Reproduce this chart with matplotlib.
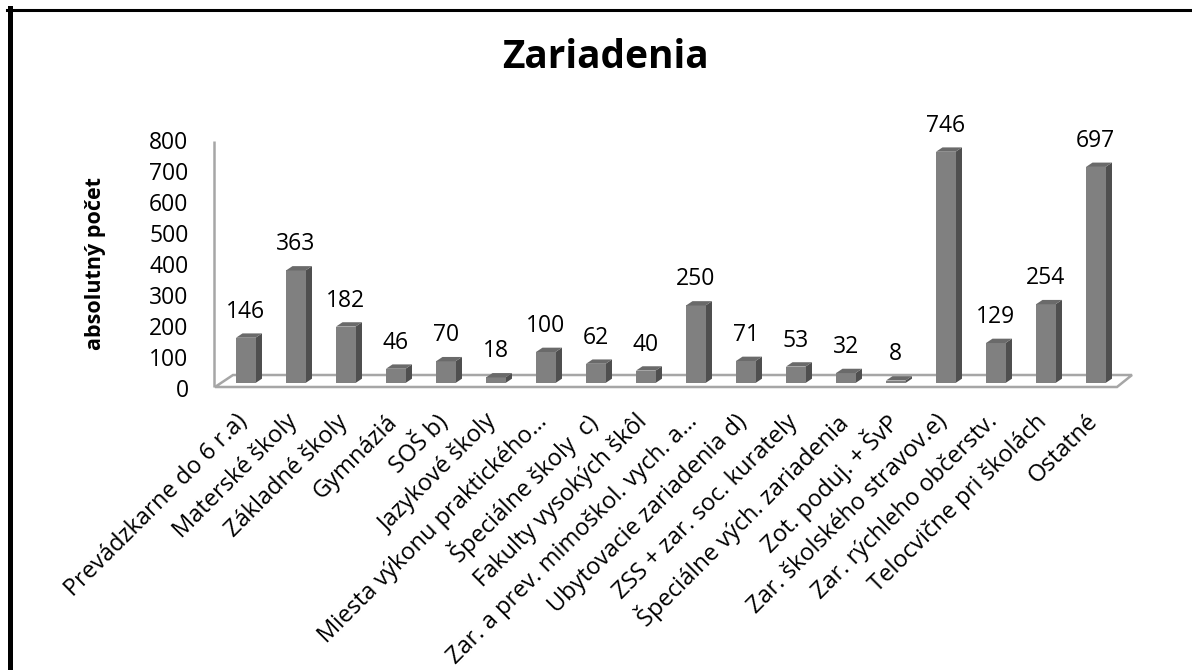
import matplotlib
matplotlib.use("Agg")
import matplotlib.pyplot as plt
from matplotlib.patches import Polygon
from matplotlib.lines import Line2D
import matplotlib.transforms as mtransforms

categories = [
    "Prevádzkarne do 6 r.a)", "Materské školy", "Základné školy", "Gymnáziá",
    "SOŠ b)", "Jazykové školy", "Miesta výkonu praktického…", "Špeciálne školy  c)",
    "Fakulty vysokých škôl", "Zar. a prev. mimoškol. vych. a…", "Ubytovacie zariadenia d)",
    "ZSS + zar. soc. kurately", "Špeciálne vých. zariadenia", "Zot. poduj. + ŠvP",
    "Zar. školského stravov.e)", "Zar. rýchleho občerstv.", "Telocvične pri školách",
    "Ostatné",
]
values = [146, 363, 182, 46, 70, 18, 100, 62, 40, 250, 71, 53, 32, 8, 746, 129, 254, 697]
yticks = [0, 100, 200, 300, 400, 500, 600, 700, 800]
title = "Zariadenia"
ylabel = "absolutný počet"

plt.rcParams['font.family'] = ['Open Sans', 'DejaVu Sans']

W, H = 1192, 670
fig = plt.figure(figsize=(W / 100, H / 100), dpi=100)
fig.patch.set_facecolor('white')

# axes placement (pixels)
left_px, right_px = 210.75, 1135.75
top_px, bot_px = 135.0, 389.2
ax = fig.add_axes([left_px / W, 1 - bot_px / H, (right_px - left_px) / W, (bot_px - top_px) / H])
ax.set_xlim(-0.7, 17.8)
ax.set_ylim(-20, 800)
ax.patch.set_alpha(0)
for s in ax.spines.values():
    s.set_visible(False)

bw = 0.39     # bar width
ddx = 0.13    # depth x
ddy = 14      # depth y
floor_col = '#a6a6a6'

# floor
floor = Polygon([(-0.615, -12.9), (17.425, -12.9), (17.725, 25.8), (-0.255, 25.8)],
                closed=True, facecolor='white', edgecolor=floor_col, lw=1.8, zorder=1)
ax.add_patch(floor)
# wall line
ax.plot([-0.635, -0.635], [-12.9, 781], color=floor_col, lw=1.8, zorder=1, clip_on=False,
        solid_capstyle='butt')

xs = list(range(len(values)))
ax.bar(xs, values, width=bw, color='#808080', zorder=3, linewidth=0)
for x, v in zip(xs, values):
    xr = x + bw / 2
    xl = x - bw / 2
    side = Polygon([(xr, 0), (xr + ddx, ddy), (xr + ddx, v + ddy), (xr, v)], closed=True,
                   facecolor='#4f4f4f', edgecolor='none', zorder=2.9)
    top = Polygon([(xl, v), (xr, v), (xr + ddx, v + ddy), (xl + ddx, v + ddy)], closed=True,
                  facecolor='#6a6a6a', edgecolor='none', zorder=3.1)
    ax.add_patch(side)
    ax.add_patch(top)
    ax.annotate(str(v), xy=(x, v + ddy), xytext=(0, 7), textcoords='offset points',
                ha='center', va='bottom', fontsize=16.5, color='black', zorder=5)

ax.set_yticks(yticks)
ax.set_yticklabels([str(t) for t in yticks], fontsize=16.5)
ax.tick_params(axis='y', length=0, pad=16)
offset = mtransforms.ScaledTranslation(0, -0.05, fig.dpi_scale_trans)
for lab in ax.get_yticklabels():
    lab.set_transform(lab.get_transform() + offset)

ax.set_xticks(xs)
ax.set_xticklabels(categories, rotation=45, ha='right', rotation_mode='anchor',
                   va='center', fontsize=17)
ax.tick_params(axis='x', length=0, pad=21)
xoff = mtransforms.ScaledTranslation(-0.02, 0, fig.dpi_scale_trans)
for lab in ax.get_xticklabels():
    lab.set_transform(lab.get_transform() + xoff)

fig.text(605 / W, 1 - 58 / H, title, ha='center', va='center', fontsize=28,
         fontweight='bold')
fig.text(95 / W, 1 - 263 / H, ylabel, ha='center', va='center', rotation=90,
         fontsize=15.5, fontweight='bold')

# outer border (top and left only visible)
fig.add_artist(Line2D([7 / W, 1.0], [1 - 9.5 / H, 1 - 9.5 / H], color='black', lw=2.2,
                      transform=fig.transFigure))
fig.add_artist(Line2D([9.5 / W, 9.5 / W], [1 - 8 / H, 0], color='black', lw=3.6,
                      transform=fig.transFigure))

fig.savefig('out.png', dpi=100, facecolor='white')
